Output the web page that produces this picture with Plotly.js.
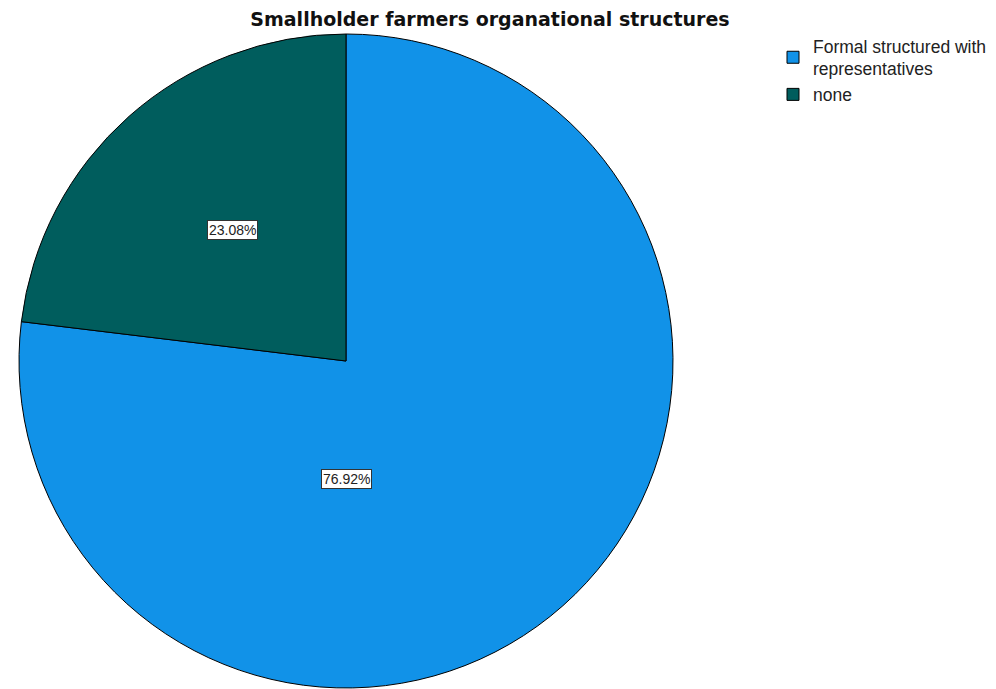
<!DOCTYPE html>
<html>
<head>
<meta charset="utf-8">
<script src="https://cdn.plot.ly/plotly-3.0.1.min.js"></script>
<style>html,body{margin:0;padding:0;background:#fff;}</style>
</head>
<body>
<div id="chart" style="width:996px;height:689px;"></div>
<script>
const categories = ["Formal structured with<br>representatives", "none"];
const percents = [76.92, 23.08];
const colors = ["#1192e8", "#005d5d"];
const chartTitle = "Smallholder farmers organational structures";

// label placement (angle measured clockwise from 12 o'clock in degrees, radius as fraction of pie radius)
const labelAngle = [180, -41];
const labelRadius = [0.36, 0.53];

const W = 996, H = 689;
const cx = 346, cy = 361, R = 327;
const dom = {x: [(cx - R) / W, (cx + R) / W], y: [1 - (cy + R) / H, 1 - (cy - R) / H]};

const annotations = percents.map((p, i) => {
  const a = labelAngle[i] * Math.PI / 180;
  const px = cx + Math.sin(a) * R * labelRadius[i];
  const py = cy - Math.cos(a) * R * labelRadius[i];
  return {
    xref: "paper", yref: "paper", x: px / W, y: 1 - py / H,
    text: p.toFixed(2) + "%", showarrow: false,
    font: {family: "Liberation Sans, Arial, sans-serif", size: 14, color: "#222"},
    bgcolor: "#ffffff", bordercolor: "#333333", borderwidth: 1, borderpad: 1,
    xanchor: "center", yanchor: "middle"
  };
});

Plotly.newPlot("chart", [{
  type: "pie",
  labels: categories,
  values: percents,
  sort: false,
  direction: "clockwise",
  rotation: 0,
  textinfo: "none",
  hoverinfo: "label+percent",
  marker: {colors: colors, line: {color: "#000000", width: 1}},
  domain: dom
}], {
  width: W, height: H,
  margin: {l: 0, r: 0, t: 0, b: 0},
  paper_bgcolor: "#ffffff",
  title: {text: "<b>" + chartTitle + "</b>", x: 490 / W, xanchor: "center", y: 1 - 19 / H, yanchor: "middle",
    font: {family: "DejaVu Sans, sans-serif", size: 19, color: "#111"}},
  showlegend: true,
  legend: {x: 773 / W, y: 1 - 28 / H, xanchor: "left", yanchor: "top",
    font: {family: "Liberation Sans, Arial, sans-serif", size: 17.5, color: "#222"},
    itemwidth: 30, tracegroupgap: 0, bgcolor: "rgba(0,0,0,0)"},
  annotations: annotations
}, {displayModeBar: false, staticPlot: true});
</script>
</body>
</html>
